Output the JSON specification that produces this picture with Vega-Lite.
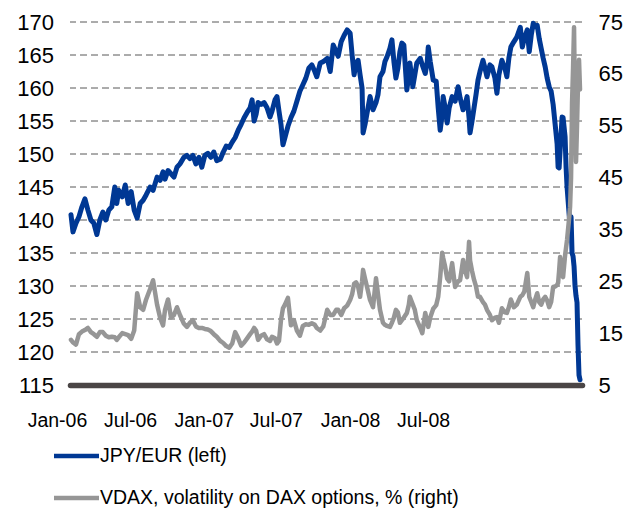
{
  "$schema": "https://vega.github.io/schema/vega-lite/v6.json",
  "width": 512,
  "height": 363,
  "autosize": {"type": "none"},
  "padding": {"left": 70, "top": 22, "right": 61, "bottom": 130},
  "background": "white",
  "config": {"view": {"stroke": null}, "font": "Liberation Sans"},
  "datasets": {
    "grid": [{"g":120},{"g":125},{"g":130},{"g":135},{"g":140},{"g":145},{"g":150},{"g":155},{"g":160},{"g":165},{"g":170}],
    "series": [
    {"date":"2006-01-04","jpy":140.8,"vdax":13.7},
    {"date":"2006-01-08","jpy":138.2,"vdax":13.2},
    {"date":"2006-01-14","jpy":139.5,"vdax":12.8},
    {"date":"2006-01-20","jpy":140.5,"vdax":14.8},
    {"date":"2006-01-26","jpy":142.0,"vdax":15.3},
    {"date":"2006-02-01","jpy":143.2,"vdax":15.6},
    {"date":"2006-02-07","jpy":141.5,"vdax":16.0},
    {"date":"2006-02-13","jpy":140.0,"vdax":15.2},
    {"date":"2006-02-19","jpy":139.5,"vdax":14.8},
    {"date":"2006-02-25","jpy":137.8,"vdax":14.3},
    {"date":"2006-03-03","jpy":140.0,"vdax":15.2},
    {"date":"2006-03-09","jpy":141.2,"vdax":15.2},
    {"date":"2006-03-15","jpy":140.0,"vdax":14.5},
    {"date":"2006-03-21","jpy":141.5,"vdax":14.2},
    {"date":"2006-03-27","jpy":142.0,"vdax":14.3},
    {"date":"2006-04-02","jpy":145.0,"vdax":14.2},
    {"date":"2006-04-06","jpy":142.5,"vdax":13.7},
    {"date":"2006-04-10","jpy":144.5,"vdax":14.2},
    {"date":"2006-04-17","jpy":143.5,"vdax":15.0},
    {"date":"2006-04-23","jpy":145.3,"vdax":14.8},
    {"date":"2006-04-29","jpy":142.5,"vdax":14.6},
    {"date":"2006-05-05","jpy":144.3,"vdax":13.9},
    {"date":"2006-05-11","jpy":141.5,"vdax":15.5},
    {"date":"2006-05-17","jpy":140.3,"vdax":22.7},
    {"date":"2006-05-23","jpy":142.5,"vdax":20.0},
    {"date":"2006-05-29","jpy":143.0,"vdax":19.5},
    {"date":"2006-06-04","jpy":143.8,"vdax":21.5},
    {"date":"2006-06-12","jpy":145.0,"vdax":23.5},
    {"date":"2006-06-18","jpy":144.5,"vdax":25.2},
    {"date":"2006-06-26","jpy":146.5,"vdax":20.5},
    {"date":"2006-07-02","jpy":146.0,"vdax":18.0},
    {"date":"2006-07-08","jpy":147.3,"vdax":16.5},
    {"date":"2006-07-12","jpy":146.2,"vdax":19.5},
    {"date":"2006-07-18","jpy":147.5,"vdax":21.5},
    {"date":"2006-07-24","jpy":147.0,"vdax":18.0},
    {"date":"2006-07-30","jpy":146.5,"vdax":18.5},
    {"date":"2006-08-05","jpy":148.0,"vdax":20.0},
    {"date":"2006-08-11","jpy":148.5,"vdax":18.5},
    {"date":"2006-08-19","jpy":149.5,"vdax":16.8},
    {"date":"2006-08-25","jpy":149.8,"vdax":16.2},
    {"date":"2006-08-31","jpy":149.3,"vdax":17.0},
    {"date":"2006-09-06","jpy":149.8,"vdax":17.5},
    {"date":"2006-09-12","jpy":148.5,"vdax":16.3},
    {"date":"2006-09-18","jpy":149.5,"vdax":16.0},
    {"date":"2006-09-24","jpy":148.0,"vdax":16.0},
    {"date":"2006-09-30","jpy":149.8,"vdax":15.8},
    {"date":"2006-10-06","jpy":150.1,"vdax":15.7},
    {"date":"2006-10-12","jpy":149.5,"vdax":15.4},
    {"date":"2006-10-18","jpy":150.3,"vdax":14.8},
    {"date":"2006-10-24","jpy":149.0,"vdax":14.3},
    {"date":"2006-10-31","jpy":149.2,"vdax":13.5},
    {"date":"2006-11-06","jpy":150.3,"vdax":13.1},
    {"date":"2006-11-12","jpy":151.2,"vdax":12.5},
    {"date":"2006-11-18","jpy":151.0,"vdax":12.2},
    {"date":"2006-11-24","jpy":151.8,"vdax":13.0},
    {"date":"2006-11-30","jpy":152.5,"vdax":15.2},
    {"date":"2006-12-06","jpy":153.6,"vdax":14.0},
    {"date":"2006-12-12","jpy":154.5,"vdax":12.6},
    {"date":"2006-12-18","jpy":155.5,"vdax":13.2},
    {"date":"2006-12-24","jpy":156.3,"vdax":14.0},
    {"date":"2006-12-30","jpy":157.0,"vdax":14.8},
    {"date":"2007-01-03","jpy":158.2,"vdax":15.3},
    {"date":"2007-01-07","jpy":155.0,"vdax":16.0},
    {"date":"2007-01-11","jpy":156.0,"vdax":15.5},
    {"date":"2007-01-15","jpy":157.8,"vdax":13.7},
    {"date":"2007-01-21","jpy":157.5,"vdax":14.5},
    {"date":"2007-01-27","jpy":157.8,"vdax":14.8},
    {"date":"2007-02-02","jpy":157.0,"vdax":13.8},
    {"date":"2007-02-08","jpy":155.6,"vdax":13.5},
    {"date":"2007-02-12","jpy":156.5,"vdax":14.3},
    {"date":"2007-02-18","jpy":158.2,"vdax":14.0},
    {"date":"2007-02-22","jpy":158.7,"vdax":13.0},
    {"date":"2007-02-26","jpy":156.5,"vdax":13.5},
    {"date":"2007-03-02","jpy":154.5,"vdax":17.5},
    {"date":"2007-03-06","jpy":151.4,"vdax":19.8},
    {"date":"2007-03-10","jpy":152.5,"vdax":20.5},
    {"date":"2007-03-16","jpy":154.2,"vdax":21.8},
    {"date":"2007-03-22","jpy":155.5,"vdax":16.5},
    {"date":"2007-03-28","jpy":156.5,"vdax":17.5},
    {"date":"2007-04-03","jpy":158.0,"vdax":15.5},
    {"date":"2007-04-09","jpy":159.5,"vdax":14.5},
    {"date":"2007-04-15","jpy":160.5,"vdax":16.4},
    {"date":"2007-04-21","jpy":161.5,"vdax":16.7},
    {"date":"2007-04-27","jpy":163.0,"vdax":16.6},
    {"date":"2007-05-03","jpy":163.5,"vdax":16.9},
    {"date":"2007-05-09","jpy":162.5,"vdax":16.6},
    {"date":"2007-05-13","jpy":161.7,"vdax":16.0},
    {"date":"2007-05-20","jpy":163.8,"vdax":15.5},
    {"date":"2007-05-26","jpy":164.0,"vdax":16.3},
    {"date":"2007-06-03","jpy":164.5,"vdax":19.5},
    {"date":"2007-06-09","jpy":162.5,"vdax":18.5},
    {"date":"2007-06-15","jpy":166.5,"vdax":18.5},
    {"date":"2007-06-21","jpy":165.5,"vdax":19.5},
    {"date":"2007-06-25","jpy":164.8,"vdax":19.5},
    {"date":"2007-07-01","jpy":167.0,"vdax":18.5},
    {"date":"2007-07-07","jpy":168.0,"vdax":19.8},
    {"date":"2007-07-13","jpy":168.8,"vdax":20.3},
    {"date":"2007-07-19","jpy":168.3,"vdax":21.4},
    {"date":"2007-07-23","jpy":165.0,"vdax":22.5},
    {"date":"2007-07-27","jpy":162.0,"vdax":24.5},
    {"date":"2007-07-31","jpy":163.8,"vdax":24.8},
    {"date":"2007-08-04","jpy":164.2,"vdax":24.0},
    {"date":"2007-08-08","jpy":162.0,"vdax":22.0},
    {"date":"2007-08-12","jpy":160.0,"vdax":25.0},
    {"date":"2007-08-14","jpy":153.2,"vdax":27.2},
    {"date":"2007-08-18","jpy":154.5,"vdax":25.5},
    {"date":"2007-08-22","jpy":156.2,"vdax":23.9},
    {"date":"2007-08-28","jpy":158.7,"vdax":21.4},
    {"date":"2007-09-03","jpy":156.7,"vdax":20.0},
    {"date":"2007-09-09","jpy":157.8,"vdax":25.6},
    {"date":"2007-09-13","jpy":159.0,"vdax":22.5},
    {"date":"2007-09-17","jpy":161.7,"vdax":19.5},
    {"date":"2007-09-23","jpy":162.5,"vdax":17.0},
    {"date":"2007-09-27","jpy":164.0,"vdax":16.6},
    {"date":"2007-10-01","jpy":164.7,"vdax":16.4},
    {"date":"2007-10-07","jpy":166.0,"vdax":16.2},
    {"date":"2007-10-11","jpy":167.3,"vdax":17.0},
    {"date":"2007-10-15","jpy":164.0,"vdax":18.0},
    {"date":"2007-10-19","jpy":161.5,"vdax":19.5},
    {"date":"2007-10-23","jpy":163.0,"vdax":19.0},
    {"date":"2007-10-27","jpy":165.5,"vdax":17.0},
    {"date":"2007-10-31","jpy":166.8,"vdax":17.5},
    {"date":"2007-11-04","jpy":166.5,"vdax":18.0},
    {"date":"2007-11-08","jpy":162.0,"vdax":18.6},
    {"date":"2007-11-10","jpy":159.7,"vdax":18.9},
    {"date":"2007-11-14","jpy":162.0,"vdax":20.5},
    {"date":"2007-11-16","jpy":163.8,"vdax":22.0},
    {"date":"2007-11-20","jpy":161.5,"vdax":21.0},
    {"date":"2007-11-22","jpy":160.2,"vdax":20.5},
    {"date":"2007-11-26","jpy":162.0,"vdax":19.5},
    {"date":"2007-11-30","jpy":163.8,"vdax":17.5},
    {"date":"2007-12-07","jpy":164.5,"vdax":16.0},
    {"date":"2007-12-11","jpy":163.5,"vdax":15.0},
    {"date":"2007-12-17","jpy":162.2,"vdax":18.9},
    {"date":"2007-12-21","jpy":164.0,"vdax":17.0},
    {"date":"2007-12-23","jpy":166.2,"vdax":16.2},
    {"date":"2007-12-27","jpy":164.0,"vdax":18.0},
    {"date":"2008-01-02","jpy":161.2,"vdax":19.7},
    {"date":"2008-01-08","jpy":161.0,"vdax":20.4},
    {"date":"2008-01-12","jpy":157.0,"vdax":22.0},
    {"date":"2008-01-16","jpy":153.6,"vdax":25.8},
    {"date":"2008-01-20","jpy":156.0,"vdax":30.5},
    {"date":"2008-01-22","jpy":158.7,"vdax":29.5},
    {"date":"2008-01-26","jpy":157.0,"vdax":27.8},
    {"date":"2008-01-30","jpy":154.7,"vdax":25.5},
    {"date":"2008-02-03","jpy":157.0,"vdax":25.0},
    {"date":"2008-02-09","jpy":158.7,"vdax":28.5},
    {"date":"2008-02-15","jpy":158.0,"vdax":23.9},
    {"date":"2008-02-21","jpy":160.2,"vdax":25.0},
    {"date":"2008-02-25","jpy":158.5,"vdax":25.2},
    {"date":"2008-03-02","jpy":156.7,"vdax":29.1},
    {"date":"2008-03-06","jpy":157.5,"vdax":27.0},
    {"date":"2008-03-10","jpy":158.7,"vdax":25.8},
    {"date":"2008-03-14","jpy":155.5,"vdax":32.6},
    {"date":"2008-03-16","jpy":153.2,"vdax":29.0},
    {"date":"2008-03-20","jpy":155.0,"vdax":27.0},
    {"date":"2008-03-24","jpy":157.0,"vdax":25.3},
    {"date":"2008-03-28","jpy":159.0,"vdax":24.0},
    {"date":"2008-04-01","jpy":161.2,"vdax":22.0},
    {"date":"2008-04-05","jpy":162.5,"vdax":22.0},
    {"date":"2008-04-11","jpy":164.2,"vdax":21.0},
    {"date":"2008-04-15","jpy":163.0,"vdax":20.5},
    {"date":"2008-04-19","jpy":161.7,"vdax":19.5},
    {"date":"2008-04-25","jpy":163.5,"vdax":18.5},
    {"date":"2008-04-29","jpy":163.2,"vdax":17.5},
    {"date":"2008-05-05","jpy":161.5,"vdax":18.0},
    {"date":"2008-05-09","jpy":159.2,"vdax":18.1},
    {"date":"2008-05-13","jpy":162.0,"vdax":17.0},
    {"date":"2008-05-19","jpy":164.2,"vdax":19.8},
    {"date":"2008-05-25","jpy":163.0,"vdax":19.0},
    {"date":"2008-05-29","jpy":161.7,"vdax":18.9},
    {"date":"2008-06-02","jpy":164.5,"vdax":20.0},
    {"date":"2008-06-06","jpy":166.2,"vdax":21.5},
    {"date":"2008-06-12","jpy":167.0,"vdax":20.0},
    {"date":"2008-06-18","jpy":167.7,"vdax":20.5},
    {"date":"2008-06-25","jpy":169.2,"vdax":22.0},
    {"date":"2008-06-29","jpy":166.2,"vdax":22.3},
    {"date":"2008-07-03","jpy":167.5,"vdax":23.0},
    {"date":"2008-07-09","jpy":168.8,"vdax":26.6},
    {"date":"2008-07-13","jpy":165.5,"vdax":22.0},
    {"date":"2008-07-17","jpy":168.0,"vdax":21.0},
    {"date":"2008-07-21","jpy":169.8,"vdax":20.0},
    {"date":"2008-07-25","jpy":169.3,"vdax":21.5},
    {"date":"2008-07-29","jpy":169.5,"vdax":22.7},
    {"date":"2008-08-02","jpy":167.5,"vdax":21.0},
    {"date":"2008-08-06","jpy":166.0,"vdax":20.5},
    {"date":"2008-08-10","jpy":164.5,"vdax":21.5},
    {"date":"2008-08-14","jpy":163.2,"vdax":22.0},
    {"date":"2008-08-18","jpy":161.5,"vdax":21.3},
    {"date":"2008-08-22","jpy":160.2,"vdax":20.0},
    {"date":"2008-08-26","jpy":159.5,"vdax":21.0},
    {"date":"2008-08-30","jpy":157.5,"vdax":23.9},
    {"date":"2008-09-03","jpy":154.5,"vdax":24.0},
    {"date":"2008-09-07","jpy":151.5,"vdax":24.3},
    {"date":"2008-09-09","jpy":148.0,"vdax":24.7},
    {"date":"2008-09-11","jpy":147.9,"vdax":27.0},
    {"date":"2008-09-13","jpy":150.5,"vdax":29.7},
    {"date":"2008-09-17","jpy":155.6,"vdax":26.5},
    {"date":"2008-09-19","jpy":155.5,"vdax":25.8},
    {"date":"2008-09-23","jpy":152.6,"vdax":30.0},
    {"date":"2008-09-25","jpy":148.0,"vdax":31.5},
    {"date":"2008-09-27","jpy":145.0,"vdax":33.0},
    {"date":"2008-10-01","jpy":141.0,"vdax":37.0},
    {"date":"2008-10-03","jpy":139.0,"vdax":39.3},
    {"date":"2008-10-05","jpy":140.5,"vdax":45.0},
    {"date":"2008-10-07","jpy":135.0,"vdax":59.4},
    {"date":"2008-10-09","jpy":134.5,"vdax":66.0},
    {"date":"2008-10-11","jpy":133.0,"vdax":74.0},
    {"date":"2008-10-13","jpy":130.0,"vdax":58.0},
    {"date":"2008-10-15","jpy":128.5,"vdax":48.0},
    {"date":"2008-10-17","jpy":127.5,"vdax":55.0},
    {"date":"2008-10-19","jpy":121.0,"vdax":63.2},
    {"date":"2008-10-21","jpy":116.5,"vdax":67.7},
    {"date":"2008-10-23","jpy":115.8,"vdax":62.0}
  ]},
  "layer": [
    {
      "data": {"name": "grid"},
      "mark": {"type": "rule", "strokeDash": [7, 4], "stroke": "#585858", "strokeWidth": 1},
      "encoding": {
        "y": {
          "field": "g",
          "type": "quantitative",
          "scale": {"domain": [115, 170], "nice": false, "zero": false},
          "axis": null
        }
      }
    },
    {
      "data": {"name": "series"},
      "mark": {"type": "line", "strokeWidth": 5, "strokeJoin": "round", "strokeCap": "round"},
      "encoding": {
        "x": {
          "field": "date",
          "type": "temporal",
          "scale": {"domain": [{"year": 2006, "month": 1, "date": 2}, {"year": 2008, "month": 10, "date": 27}]},
          "axis": {
            "orient": "bottom",
            "title": null,
            "values": [
              {"year": 2006, "month": 1, "date": 22},
              {"year": 2006, "month": 6, "date": 18},
              {"year": 2006, "month": 11, "date": 13},
              {"year": 2007, "month": 4, "date": 7},
              {"year": 2007, "month": 9, "date": 3},
              {"year": 2008, "month": 1, "date": 28}
            ],
            "labelExpr": "datum.value < time(datetime(2006,2,1)) ? 'Jan-06' : datum.value < time(datetime(2006,7,1)) ? 'Jul-06' : datum.value < time(datetime(2007,0,1)) ? 'Jan-07' : datum.value < time(datetime(2007,5,1)) ? 'Jul-07' : datum.value < time(datetime(2007,11,1)) ? 'Jan-08' : 'Jul-08'",
            "labelFontSize": 19.5,
            "labelColor": "#000000",
            "labelPadding": 26,
            "labelOffset": -23,
            "labelAlign": "center",
            "labelBaseline": "top",
            "labelFlush": false,
            "labelOverlap": false,
            "ticks": false,
            "grid": false,
            "domain": true,
            "domainColor": "#4a4545",
            "domainWidth": 5.5,
            "domainCap": "round",
            "zindex": 1
          }
        },
        "y": {
          "field": "jpy",
          "type": "quantitative",
          "scale": {"domain": [115, 170], "nice": false, "zero": false},
          "axis": {
            "orient": "left",
            "title": null,
            "values": [115, 120, 125, 130, 135, 140, 145, 150, 155, 160, 165, 170],
            "grid": false,
            "ticks": false,
            "domain": false,
            "labelFontSize": 22,
            "labelColor": "#000000",
            "labelPadding": 16.5,
            "labelFlush": false,
            "labelOverlap": false
          }
        },
        "color": {
          "datum": "JPY/EUR (left)",
          "scale": {
            "domain": ["JPY/EUR (left)", "VDAX, volatility on DAX options, % (right)"],
            "range": ["#003894", "#969696"]
          },
          "legend": {
            "orient": "none",
            "legendX": -6,
            "legendY": 421.5,
            "direction": "vertical",
            "title": null,
            "padding": 0,
            "symbolType": "M-2.25,0H2.25",
            "symbolSize": 400,
            "symbolStrokeWidth": 4.5,
            "symbolFillColor": "transparent",
            "labelFontSize": 19.5,
            "labelColor": "#000000",
            "labelOffset": 11,
            "labelLimit": 0,
            "rowPadding": 20
          }
        }
      }
    },
    {
      "data": {"name": "series"},
      "mark": {"type": "line", "strokeWidth": 4.5, "strokeJoin": "round", "strokeCap": "round"},
      "encoding": {
        "x": {"field": "date", "type": "temporal"},
        "y": {
          "field": "vdax",
          "type": "quantitative",
          "scale": {"domain": [5, 75], "nice": false, "zero": false},
          "axis": {
            "orient": "right",
            "title": null,
            "values": [5, 15, 25, 35, 45, 55, 65, 75],
            "grid": false,
            "ticks": false,
            "domain": false,
            "labelFontSize": 22,
            "labelColor": "#000000",
            "labelPadding": 16,
            "labelFlush": false,
            "labelOverlap": false
          }
        },
        "color": {"datum": "VDAX, volatility on DAX options, % (right)"}
      }
    }
  ],
  "resolve": {"scale": {"y": "independent"}}
}
